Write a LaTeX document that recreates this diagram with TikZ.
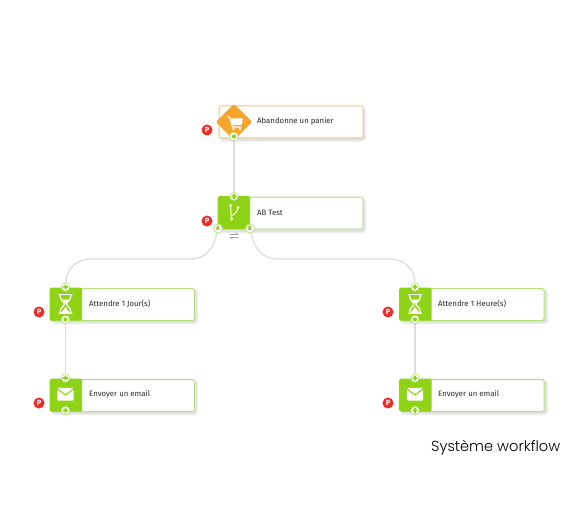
\documentclass[tikz,border=0pt]{standalone}
\usepackage{fontspec}
\setmainfont{Fira Sans}
\newfontfamily\titlefont{Poppins Light}
\usetikzlibrary{calc}
\definecolor{grn}{HTML}{8FD316}
\definecolor{grnl}{HTML}{B5E27A}
\definecolor{org}{HTML}{F6A42C}
\definecolor{orgl}{HTML}{FAC678}
\definecolor{lnk}{HTML}{DDDDDD}
\definecolor{red}{HTML}{EE2B24}
\definecolor{txt}{HTML}{2B2B2B}
\tikzset{
 x=1pt,y=-1pt,
 card/.style={draw=grnl,line width=1pt,fill=white,rounded corners=1.5pt,minimum width=144pt,minimum height=32pt,inner sep=0pt,anchor=north west},
 cardo/.style={card,draw=orgl},
 head/.style={fill=grn,rounded corners=1.5pt,minimum width=32.5pt,minimum height=33pt,inner sep=0pt,anchor=north west},
 lbl/.style={font=\fontsize{7.8}{9}\selectfont,text=txt,anchor=west,inner sep=0pt},
 port/.style={circle,draw=grnl,line width=.7pt,fill=white,minimum size=8.4pt,inner sep=0pt,text=grn},
 abport/.style={port,minimum size=9pt,font=\fontsize{6}{6}\bfseries\selectfont,text=grn!85!black},
 pmark/.style={circle,fill=red,text=white,minimum size=11pt,inner sep=0pt,font=\fontsize{7.5}{7.5}\bfseries\selectfont},
 link/.style={draw=lnk,line width=1.3pt},
 ico/.style={draw=white,line width=1.3pt,line cap=round,line join=round},
 icof/.style={fill=white},
 shd/.style={fill=black,opacity=.022,rounded corners=3pt}
}
\newcommand{\shad}[4]{%
 \fill[shd] (#1+1,#2+1) rectangle (#3+4,#4+4.5);
 \fill[shd] (#1+1.5,#2+1.5) rectangle (#3+3.5,#4+4);
 \fill[shd] (#1+2,#2+2) rectangle (#3+3,#4+3.5);
 \fill[shd] (#1+2,#2+2) rectangle (#3+2.5,#4+3);
 \fill[shd] (#1+2,#2+2) rectangle (#3+2,#4+2.5);
}
\newcommand{\plusmark}[2]{\fill[grn] (#1-2.4,#2-.8) rectangle (#1+2.4,#2+.8) (#1-.8,#2-2.4) rectangle (#1+.8,#2+2.4);}
\newcommand{\dotmark}[2]{\fill[grn] (#1,#2) circle (2.1);}
\newcommand{\hourglass}[2]{%
 \draw[ico] (#1-6.5,#2-9.5) -- (#1+6.5,#2-9.5);
 \draw[ico] (#1-6.5,#2+9.5) -- (#1+6.5,#2+9.5);
 \draw[ico] (#1-5.5,#2-9) .. controls (#1-5.5,#2-3) and (#1-1,#2-2) .. (#1-1,#2) .. controls (#1-1,#2+2) and (#1-5.5,#2+3) .. (#1-5.5,#2+9);
 \draw[ico] (#1+5.5,#2-9) .. controls (#1+5.5,#2-3) and (#1+1,#2-2) .. (#1+1,#2) .. controls (#1+1,#2+2) and (#1+5.5,#2+3) .. (#1+5.5,#2+9);
 \fill[white] (#1-4,#2-4.5) -- (#1+4,#2-4.5) -- (#1,#2-.5) -- cycle;
 \fill[white] (#1-4.5,#2+9) -- (#1+4.5,#2+9) -- (#1,#2+3) -- cycle;
}
\newcommand{\envelope}[2]{%
 \fill[white,rounded corners=1pt] (#1-8.2,#2-6.2) -- (#1+8.2,#2-6.2) -- (#1,#2+.2) -- cycle;
 \fill[white,rounded corners=1pt] (#1-8.2,#2-4.4) -- (#1,#2+2) -- (#1+8.2,#2-4.4) -- (#1+8.2,#2+6.5) -- (#1-8.2,#2+6.5) -- cycle;
}
\begin{document}
\begin{tikzpicture}
\useasboundingbox (0,0) rectangle (570,516);
\fill[white] (0,0) rectangle (570,516);
% shadows
\shad{218}{106}{362.5}{138}
\shad{218}{197}{362.5}{229}
\shad{50}{288}{194.5}{320}
\shad{50}{379}{194.5}{411}
\shad{399}{288}{544.5}{320}
\shad{399}{379}{544.5}{411}
% cards
\node[cardo] (c1) at (218.5,105.5) {};
\node[card] (c2) at (218.5,196.5) {};
\node[card] (c3) at (50,288) {};
\node[card] (c4) at (50,379) {};
\node[card] (c5) at (399.5,288) {};
\node[card] (c6) at (399.5,379) {};
% heads
\node[fill=org,rounded corners=1.5pt,minimum size=25.5pt,inner sep=0pt,rotate=45] (h1) at (234,122) {};
\node[head] (h2) at (217.5,196) {};
\node[head] (h3) at (49.5,287.5) {};
\node[head] (h4) at (49.5,378.5) {};
\node[head] (h5) at (399,287.5) {};
\node[head] (h6) at (399,378.5) {};
% ports
\node[port] (o1) at (234,136.5) {};
\node[port] (i2) at (234,196.5) {};
\node[abport] (a) at (218,228.5) {A};
\node[abport] (b) at (250,228.5) {B};
\node[port] (i3) at (65.5,287) {};
\node[port] (o3) at (65.5,319.5) {};
\node[port] (i4) at (65.5,378) {};
\node[port] (o4) at (65.5,410.5) {};
\node[port] (i5) at (415,287) {};
\node[port] (o5) at (415,319.5) {};
\node[port] (i6) at (415,378) {};
\node[port] (o6) at (415,410.5) {};
% connectors
\draw[link] (o1) -- (i2);
\draw[link] (a) .. controls (214.5,245) and (208,259) .. (190,259) -- (90,259) .. controls (76,259) and (66,270) .. (i3);
\draw[link] (b) .. controls (253.5,245) and (260,259) .. (278,259) -- (390,259) .. controls (405,259) and (415,270) .. (i5);
\draw[link] (o3) -- (i4);
\draw[link] (o5) -- (i6);
% marks
\dotmark{234}{136.5}
\plusmark{234}{196.5}
\plusmark{65.5}{287}\dotmark{65.5}{319.5}\plusmark{65.5}{378}\plusmark{65.5}{410.5}
\plusmark{415}{287}\dotmark{415}{319.5}\plusmark{415}{378}\plusmark{415}{410.5}
% labels
\node[lbl] (t1) at (257,121.5) {Abandonne un panier};
\node[lbl] (t2) at (257,212.5) {AB Test};
\node[lbl] (t3) at (89,303.5) {Attendre 1 Jour(s)};
\node[lbl] (t4) at (89,394.5) {Envoyer un email};
\node[lbl] (t5) at (438,303.5) {Attendre 1 Heure(s)};
\node[lbl] (t6) at (438,394.5) {Envoyer un email};
% P
\node[pmark] (p1) at (207,130) {P};
\node[pmark] (p2) at (207,221) {P};
\node[pmark] (p3) at (39,312) {P};
\node[pmark] (p4) at (39,403) {P};
\node[pmark] (p5) at (388,312) {P};
\node[pmark] (p6) at (388,403) {P};
% cart
\draw[ico,line width=1.1pt] (227.5,117) -- (229.5,117) -- (232.5,127) -- (241,127);
\fill[white] (230.5,118.5) -- (243,118.5) -- (241.5,125) -- (232.5,125) -- cycle;
\fill[white] (233.5,129) circle (1.4) (240,129) circle (1.4);
% branch icon
\draw[ico,line width=1pt] (230.5,206) -- (231.5,219) (237.5,209) .. controls (237,214) and (233,213) .. (231.5,216.5);
\fill[white] (230.5,205.5) circle (1.6) (238,207.5) circle (1.6) (231.5,219) circle (1.6);
% swap
\draw[gray!70,line width=.7pt] (230,234.5) -- (238,234.5) (235.5,233) -- (238,234.5) (230,237.5) -- (238,237.5) (230,237.5) -- (232.5,239);
\hourglass{65.5}{304}
\hourglass{415}{304}
\envelope{65.5}{394}
\envelope{415}{394}
\node[anchor=west,inner sep=0pt,font=\titlefont\fontsize{14.6}{16}\selectfont,text=black] (title) at (431,448) {Système workflow};
\end{tikzpicture}
\end{document}
